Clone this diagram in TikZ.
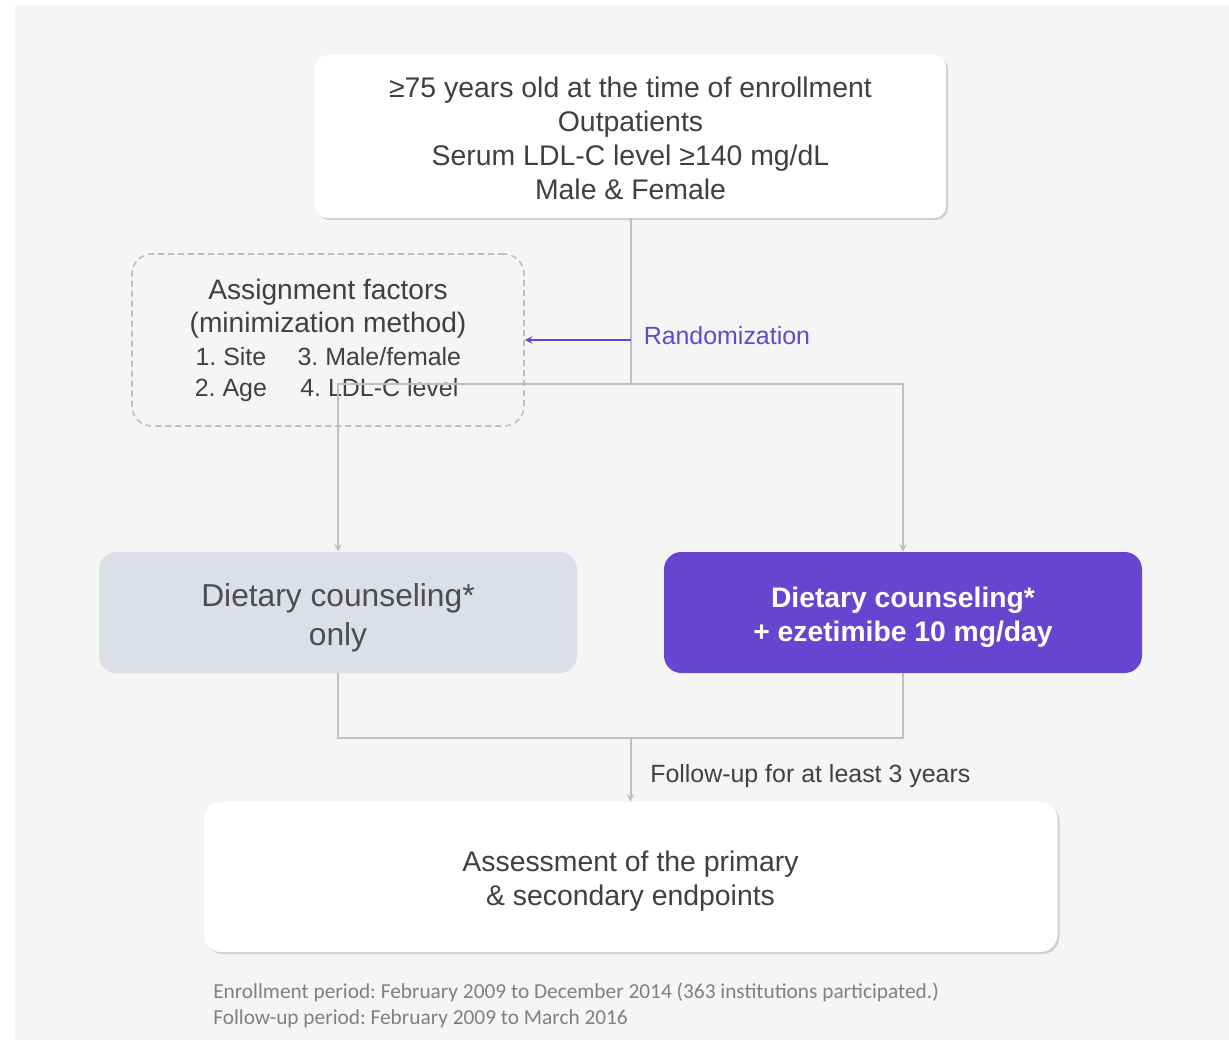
\documentclass[tikz,border=0pt]{standalone}
\usepackage{fontspec}
\setmainfont{Liberation Sans}
\newfontfamily\footfont{Carlito}
\usetikzlibrary{shadows}
\definecolor{bggray}{RGB}{245,245,245}
\definecolor{linegray}{RGB}{191,191,191}
\definecolor{txtgray}{RGB}{64,64,64}
\definecolor{armtxt}{RGB}{77,77,77}
\definecolor{purp}{RGB}{102,70,208}
\definecolor{armgray}{RGB}{220,223,231}
\definecolor{footgray}{RGB}{128,128,128}
\frenchspacing

\begin{document}
\begin{tikzpicture}[x=0.75pt,y=-0.75pt,
  box/.style={fill=white,rounded corners=9pt,align=center,text=txtgray,
    drop shadow={shadow xshift=1.5pt,shadow yshift=-1.5pt,opacity=0.15,fill=black},
    font=\fontsize{21.3}{25.5}\selectfont},
  arm/.style={rounded corners=13pt,align=center,minimum width=358.5pt,minimum height=90.75pt},
  line/.style={draw=linegray,line width=1.5pt},
  lbl/.style={inner sep=0pt,font=\fontsize{18.7}{23}\selectfont}]
  \useasboundingbox (0,0) rectangle (1229,1040);
  \fill[bggray] (15,5) rectangle (1229,1040);

  % boxes
  \node[box,minimum width=473.25pt,minimum height=122.25pt,text height=94.5pt] (top) at (630.5,136.5)
    {≥75 years old at the time of enrollment\\Outpatients\\Serum LDL-C level ≥140 mg/dL\\Male \& Female};
  \node[draw=linegray,line width=1.2pt,dash pattern=on 4.5pt off 3pt,rounded corners=15pt,
    minimum width=294pt,minimum height=129pt,align=center,text=txtgray,text height=69.2pt,
    font=\fontsize{21.1}{25}\selectfont] (assign) at (328,340)
    {Assignment factors\\(minimization method)\\{\fontsize{18.7}{23.25}\selectfont
     \begin{tabular}[t]{@{}c@{\hspace{23pt}}c@{}}1. Site & 3. Male/female\\2. Age & 4. LDL-C level\end{tabular}}};
  \node[arm,fill=armgray,text=armtxt,text height=53.8pt,font=\fontsize{23.8}{29.3}\selectfont] (left) at (338,612.5)
    {Dietary counseling*\\only};
  \node[arm,fill=purp,text=white,text height=48.2pt,font=\fontsize{21.2}{25.5}\selectfont\bfseries] (right) at (903,612.5)
    {Dietary counseling*\\+ ezetimibe 10 mg/day};
  \node[box,minimum width=640.5pt,minimum height=112.5pt,rounded corners=13pt,text height=46.8pt] (bottom) at (630.5,877)
    {Assessment of the primary\\\& secondary endpoints};

  % connectors
  \coordinate (split) at (630.5,384);
  \coordinate (randpt) at (630.5,340);
  \coordinate (join) at (630.5,738);
  \draw[line] (top.south) -- (split);
  \draw[line,->,>=stealth] (split) -| (left.north);
  \draw[line,->,>=stealth] (split) -| (right.north);
  \draw[draw=purp,line width=1.5pt,->,>=stealth] (randpt) -- (assign.east);
  \node[lbl,text=purp,anchor=west] (randlbl) at ([xshift=9.75pt,yshift=3pt]randpt) {Randomization};
  \draw[line] (left.south) |- (join) -| (right.south);
  \draw[line,->,>=stealth] (join) -- (bottom.north);
  \node[lbl,text=txtgray,anchor=west] (fuplbl) at (650,776) {Follow-up for at least 3 years};

  % footnote
  \node[anchor=west,align=left,inner sep=0pt,text=footgray,font=\footfont\fontsize{16}{19.5}\selectfont] (foot) at (213,1005.5)
    {Enrollment period: February 2009 to December 2014 (363 institutions participated.)\\
     Follow-up period: February 2009 to March 2016};
\end{tikzpicture}
\end{document}
